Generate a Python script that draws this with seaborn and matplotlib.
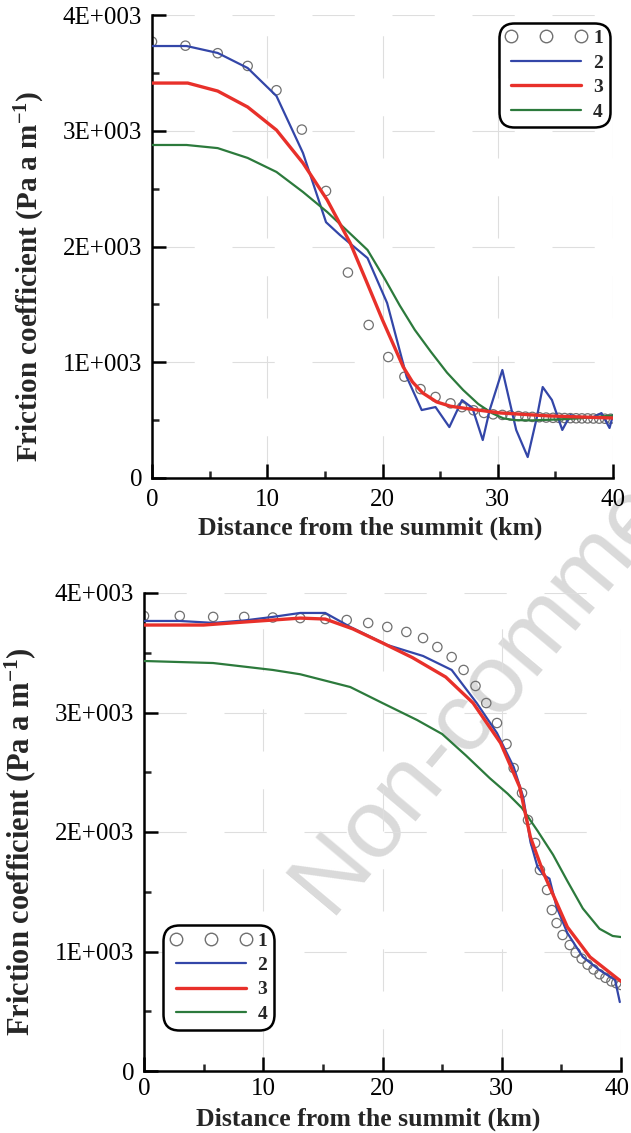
import numpy as np
import pandas as pd
import matplotlib
matplotlib.use("Agg")
import matplotlib.pyplot as plt
import matplotlib.transforms as mtransforms
from matplotlib.lines import Line2D
import seaborn as sns

# ---------------- data (top panel) ----------------
top_obs_x = [0, 2.9, 5.7, 8.3, 10.8, 13.0, 15.1, 17.0, 18.8, 20.5, 21.9, 23.3, 24.6, 25.9, 26.9,
             27.9, 28.8, 29.6, 30.4, 31.1, 31.8, 32.4, 33.0, 33.6, 34.2, 34.8, 35.3, 35.8, 36.3,
             36.8, 37.3, 37.8, 38.3, 38.8, 39.3, 39.8]
top_obs_y = [3770, 3735, 3670, 3560, 3350, 3010, 2480, 1775, 1322, 1045, 875, 768, 700, 645, 612,
             585, 562, 550, 545, 540, 535, 530, 528, 525, 522, 520, 520, 518, 517,
             516, 515, 515, 514, 513, 512, 512]

top_m2_x = [0, 3.0, 5.7, 8.3, 10.8, 13.1, 15.1, 16.3, 17.5, 18.7, 20.4, 22.1, 23.4, 24.6, 25.8,
            26.9, 27.8, 28.7, 29.3, 30.4, 31.6, 32.6, 33.4, 33.9, 34.7, 35.6, 36.3, 37.1, 38.3,
            39.0, 39.7, 40]
top_m2_y = [3732, 3732, 3672, 3542, 3300, 2808, 2210, 2100, 2000, 1900, 1512, 873, 587, 613, 440,
            673, 605, 328, 587, 933, 415, 181, 527, 786, 674, 415, 544, 518, 527,
            561, 432, 544]

top_m3_x = [0, 3.1, 5.7, 8.3, 10.8, 13.1, 15.2, 17.2, 18.6, 20.0, 21.0, 21.8, 22.6, 23.5, 24.7,
            25.9, 27.3, 30.2, 34.5, 40]
top_m3_y = [3412, 3412, 3343, 3205, 3006, 2721, 2402, 2030, 1700, 1365, 1140, 959, 830, 734, 657,
            620, 600, 562, 536, 518]

top_m4_x = [0, 3, 5.7, 8.3, 10.8, 13.1, 15.2, 17.0, 18.7, 20.2, 21.5, 22.8, 24.2, 25.6, 27.0,
            28.3, 29.5, 30.5, 31.5, 33, 35, 37, 40]
top_m4_y = [2877, 2877, 2850, 2765, 2644, 2471, 2298, 2130, 1970, 1720, 1490, 1280, 1090, 910, 760,
            640, 560, 515, 500, 498, 505, 515, 540]

# ---------------- data (bottom panel) ----------------
bot_obs_x = [0, 3.0, 5.8, 8.4, 10.8, 13.1, 15.2, 17.0, 18.8, 20.4, 22.0, 23.4, 24.6, 25.8, 26.8,
             27.8, 28.7, 29.6, 30.4, 31.0, 31.7, 32.2, 32.8, 33.2, 33.8, 34.2, 34.6, 35.1, 35.7,
             36.2, 36.7, 37.2, 37.7, 38.2, 38.7, 39.2, 39.6, 40.0]
bot_obs_y = [3808, 3808, 3800, 3800, 3795, 3790, 3782, 3774, 3749, 3716, 3674, 3623, 3548, 3464, 3356,
             3222, 3079, 2912, 2736, 2535, 2326, 2100, 1908, 1682, 1515, 1347, 1238, 1138, 1054,
             990, 940, 890, 850, 810, 780, 750, 735, 720]

bot_m2_x = [0, 3, 5.8, 8.4, 10.8, 13.1, 15.2, 17.3, 20.4, 23.4, 25.8, 27.9, 29.6, 31.0, 31.8,
            32.4, 33.0, 33.5, 34.0, 34.6, 35.5, 36.8, 38.2, 39.5, 39.9]
bot_m2_y = [3766, 3766, 3750, 3770, 3800, 3833, 3833, 3716, 3565, 3473, 3356, 3079, 2828, 2544, 2293,
            1920, 1707, 1640, 1610, 1372, 1155, 954, 845, 762, 577]

bot_m3_x = [0, 5, 8.4, 13.1, 15.2, 17.5, 20.0, 22.5, 25.3, 27.6, 29.9, 31.5, 32.4, 33.5, 35.5,
            37.4, 40]
bot_m3_y = [3732, 3732, 3757, 3790, 3782, 3700, 3582, 3460, 3297, 3079, 2745, 2377, 1958, 1657, 1205,
            954, 750]

bot_m4_x = [0, 5.8, 10.8, 13.1, 17.3, 20.0, 22.9, 25.0, 27.0, 29.0, 30.5, 31.7, 33.0, 34.3, 35.5,
            36.8, 38.2, 39.3, 40]
bot_m4_y = [3431, 3414, 3356, 3320, 3213, 3079, 2937, 2820, 2640, 2450, 2320, 2200, 2010, 1810, 1590,
            1360, 1190, 1130, 1121]

legend_labels = ["1", "2", "3", "4"]
x_ticks = [0, 10, 20, 30, 40]
y_ticks = [0, 1000, 2000, 3000, 4000]
y_tick_labels = ["0", "1E+003", "2E+003", "3E+003", "4E+003"]

# ---------------- style ----------------
sns.set_theme(style="white")
plt.rcParams["font.family"] = ["Liberation Serif", "DejaVu Serif"]
plt.rcParams["mathtext.fontset"] = "custom"
plt.rcParams["mathtext.rm"] = "Liberation Serif:bold"
plt.rcParams["mathtext.default"] = "rm"

C_OBS = "#707070"
C2 = "#3346a8"
C3 = "#e8302a"
C4 = "#2c7a3c"

fig = plt.figure(figsize=(6.31, 11.33), dpi=100)
ax1 = fig.add_axes([152/631, 1-478/1133, 461/631, 463/1133])
ax2 = fig.add_axes([144/631, 1-1071/1133, 477/631, 478/1133])


def draw(ax, ox, oy, x2, y2, x3, y3, x4, y4, ylab_size, xpad):
    sns.scatterplot(x=ox, y=oy, ax=ax, marker="o", s=45, facecolor="none",
                    edgecolor=C_OBS, linewidth=0.9, zorder=2, legend=False)
    sns.lineplot(x=x2, y=y2, ax=ax, color=C2, lw=1.6, sort=False, estimator=None, zorder=3)
    sns.lineplot(x=x3, y=y3, ax=ax, color=C3, lw=2.4, sort=False, estimator=None, zorder=4)
    sns.lineplot(x=x4, y=y4, ax=ax, color=C4, lw=1.6, sort=False, estimator=None, zorder=3)
    ax.set_xlim(0, 40)
    ax.set_ylim(0, 4000)
    ax.set_xticks(x_ticks)
    ax.set_xticklabels([str(t) for t in x_ticks])
    ax.set_yticks(y_ticks)
    ax.set_yticklabels(y_tick_labels)
    ax.set_xticks([5, 15, 25, 35], minor=True)
    ax.set_yticks([500, 1500, 2500, 3500], minor=True)
    ax.tick_params(which="major", direction="in", length=10, width=1.8, labelsize=18,
                   colors="black")
    ax.tick_params(axis="x", which="major", pad=xpad)
    ax.tick_params(axis="y", which="major", pad=7)
    ax.tick_params(which="minor", direction="in", length=5, width=1.8)
    ax.tick_params(axis="x", which="both", bottom=True)
    ax.tick_params(axis="y", which="both", left=True)
    for s in ["top", "right"]:
        ax.spines[s].set_visible(False)
    for s in ["left", "bottom"]:
        ax.spines[s].set_color("black")
        ax.spines[s].set_linewidth(1.8)
    ax.grid(True, which="major", color="#dedede", lw=0.8, linestyle=(0, (38, 34)))
    ax.set_axisbelow(True)
    ax.set_xlabel("Distance from the summit (km)", fontsize=18.5, fontweight="bold")
    ax.set_ylabel(r"Friction coefficient (Pa a m$^{-1}$)", fontsize=ylab_size,
                  fontweight="bold")
    ax.set_facecolor("none")


draw(ax1, top_obs_x, top_obs_y, top_m2_x, top_m2_y, top_m3_x, top_m3_y, top_m4_x, top_m4_y, 21, 8)
draw(ax2, bot_obs_x, bot_obs_y, bot_m2_x, bot_m2_y, bot_m3_x, bot_m3_y, bot_m4_x, bot_m4_y, 22, 5)

ax1.xaxis.set_label_coords(0.473, -0.084)
ax1.yaxis.set_label_coords(-0.228, 0.435)
ax2.xaxis.set_label_coords(0.47, -0.076)
ax2.yaxis.set_label_coords(-0.222, 0.479)

# keep the last bottom tick label "40" inside the canvas
last = ax2.get_xticklabels()[-1]
last.set_transform(last.get_transform() +
                   mtransforms.ScaledTranslation(-4/100, 0, fig.dpi_scale_trans))


def add_legend(ax, loc, anchor):
    handles = [
        Line2D([], [], linestyle="none", marker="o", markersize=9, markerfacecolor="none",
               markeredgecolor=C_OBS, markeredgewidth=1.0),
        Line2D([], [], color=C2, lw=1.6),
        Line2D([], [], color=C3, lw=2.4),
        Line2D([], [], color=C4, lw=1.6),
    ]
    leg = ax.legend(handles, legend_labels, loc=loc, bbox_to_anchor=anchor, numpoints=3,
                    handlelength=4.2, handletextpad=0.3, labelspacing=0.35,
                    borderpad=0.35, borderaxespad=0, frameon=True, fancybox=True,
                    prop={"family": "Liberation Serif", "weight": "bold", "size": 14})
    fr = leg.get_frame()
    fr.set_edgecolor("black")
    fr.set_linewidth(1.8)
    fr.set_alpha(1)
    fr.set_boxstyle("round", pad=0, rounding_size=0.8)
    return leg


add_legend(ax1, "upper right", (0.993, 0.983))
add_legend(ax2, "upper left", (0.04, 0.305))

# watermark (behind the data, above the white background)
fig.text(0.522, 0.192, "Non-commercial", fontsize=70, color="#dadada", rotation=50,
         rotation_mode="anchor", ha="left", va="baseline", family="Liberation Sans", zorder=-1)

fig.savefig("out.png", dpi=100, facecolor="white")
